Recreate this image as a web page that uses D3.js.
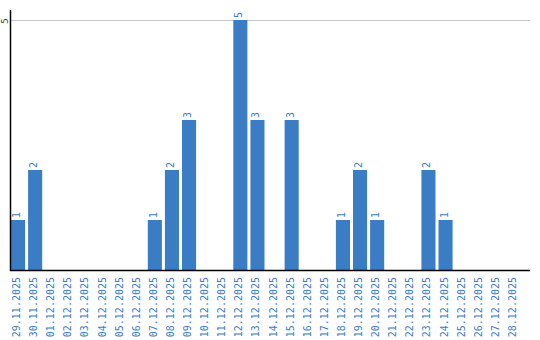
<!DOCTYPE html>
<html>
<head>
<meta charset="utf-8">
<script src="https://cdn.jsdelivr.net/npm/d3@7"></script>
<style>
  body { margin: 0; background: #fff; }
  text { font-family: "DejaVu Sans Mono", monospace; font-size: 10px; }
</style>
</head>
<body>
<div id="chart"></div>
<script>
const dates = [
    "29.11.2025", "30.11.2025", "01.12.2025", "02.12.2025", "03.12.2025",
    "04.12.2025", "05.12.2025", "06.12.2025", "07.12.2025", "08.12.2025",
    "09.12.2025", "10.12.2025", "11.12.2025", "12.12.2025", "13.12.2025",
    "14.12.2025", "15.12.2025", "16.12.2025", "17.12.2025", "18.12.2025",
    "19.12.2025", "20.12.2025", "21.12.2025", "22.12.2025", "23.12.2025",
    "24.12.2025", "25.12.2025", "26.12.2025", "27.12.2025", "28.12.2025"
];
const counts = [1, 2, 0, 0, 0, 0, 0, 0, 1, 2, 3, 0, 0, 5, 3, 0, 3, 0, 0, 1, 2, 1, 0, 0, 2, 1, 0, 0, 0, 0];
const yTicks = [5];

const width = 540;
const height = 340;
const plotLeft = 11, plotRight = 521, plotTop = 20, plotBottom = 270;
const blue = "#3a7dc4";

const svg = d3.select("#chart")
    .append("svg")
    .attr("width", width)
    .attr("height", height);

const x = d3.scaleBand()
    .domain(dates)
    .range([plotLeft, plotRight])
    .paddingInner(3 / 17)
    .paddingOuter(0)
    .align(0);

const y = d3.scaleLinear()
    .domain([0, 5])
    .range([plotBottom, plotTop]);

// grid
svg.selectAll(".grid")
    .data(yTicks)
    .enter()
    .append("line")
    .attr("x1", plotLeft)
    .attr("x2", 530)
    .attr("y1", d => y(d) + 0.5)
    .attr("y2", d => y(d) + 0.5)
    .attr("stroke", "#c8c8c8");

svg.selectAll(".ytick")
    .data(yTicks)
    .enter()
    .append("text")
    .attr("transform", d => `translate(8,${y(d) + 1}) rotate(-90)`)
    .attr("text-anchor", "middle")
    .attr("fill", "#333")
    .style("font-size", "9px")
    .text(d => d);

const data = dates.map((d, i) => ({ date: d, value: counts[i] }));

svg.selectAll(".bar")
    .data(data.filter(d => d.value > 0))
    .enter()
    .append("rect")
    .attr("x", d => x(d.date))
    .attr("y", d => y(d.value))
    .attr("width", x.bandwidth())
    .attr("height", d => plotBottom - y(d.value))
    .attr("fill", blue);

svg.selectAll(".val")
    .data(data.filter(d => d.value > 0))
    .enter()
    .append("text")
    .attr("transform", d => `translate(${x(d.date) + x.bandwidth() / 2 + 2},${y(d.value) - 2}) rotate(-90)`)
    .attr("fill", blue)
    .text(d => d.value);

// axes lines
svg.append("line")
    .attr("x1", 10.5).attr("x2", 10.5)
    .attr("y1", 10).attr("y2", plotBottom + 1)
    .attr("stroke", "#000").attr("stroke-width", 1.5);
svg.append("line")
    .attr("x1", 10).attr("x2", 530)
    .attr("y1", plotBottom + 0.5).attr("y2", plotBottom + 0.5)
    .attr("stroke", "#000").attr("stroke-width", 1.5);

svg.selectAll(".xlab")
    .data(dates)
    .enter()
    .append("text")
    .attr("transform", d => `translate(${x(d) + x.bandwidth() / 2 + 2},277) rotate(-90)`)
    .attr("text-anchor", "end")
    .attr("fill", blue)
    .text(d => d);
</script>
</body>
</html>
